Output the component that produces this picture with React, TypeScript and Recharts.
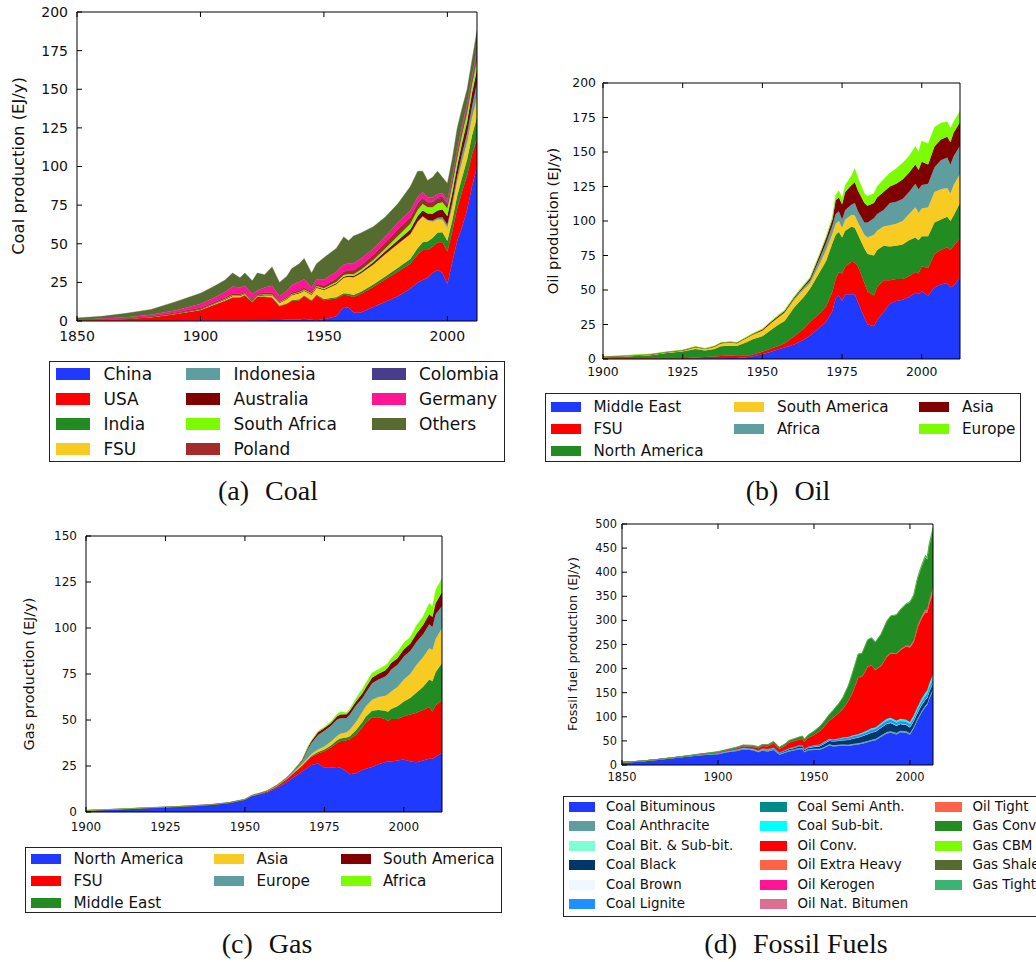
import React from "react";
import { AreaChart, Area, XAxis, YAxis, ReferenceLine } from "recharts";

// ---------- (a) Coal, EJ/y ----------
const coalYears = [1850, 1860, 1870, 1880, 1890, 1900, 1905, 1910, 1913, 1916, 1918, 1921, 1923, 1926, 1929, 1932, 1935, 1937, 1940, 1942, 1945, 1947, 1950, 1955, 1958, 1960, 1962, 1965, 1970, 1975, 1980, 1985, 1988, 1990, 1992, 1994, 1996, 1998, 2000, 2002, 2004, 2006, 2008, 2010, 2012];
const coalChina = [0.1, 0.1, 0.1, 0.2, 0.2, 0.3, 0.3, 0.4, 0.4, 0.4, 0.4, 0.5, 0.5, 0.5, 0.6, 0.6, 0.8, 0.8, 1, 1.5, 0.8, 0.5, 1.2, 3, 9, 8.5, 5.5, 5.5, 9, 12.5, 16, 21, 25, 26.5, 28, 31, 33, 31, 24, 38, 52, 61, 72, 87, 100];
const coalUSA = [0.4, 0.9, 1.4, 2.3, 4.3, 6.7, 9.7, 12.6, 14.6, 14.6, 16.1, 11.5, 15, 15, 14.4, 8.9, 10.2, 12.2, 12.5, 14.5, 12.2, 16, 12.3, 11.5, 8, 8, 10, 12, 13, 14.5, 16, 16, 18, 19.5, 18, 17, 18, 20, 21, 20, 21, 23, 22, 21, 18];
const coalIndia = [0, 0, 0, 0, 0.05, 0.1, 0.15, 0.2, 0.3, 0.3, 0.4, 0.4, 0.4, 0.4, 0.4, 0.35, 0.4, 0.45, 0.5, 0.5, 0.5, 0.6, 0.7, 0.8, 1, 1.1, 1.3, 1.4, 1.6, 2, 2.4, 3.2, 4.3, 5, 5.5, 5.8, 6.2, 6.5, 6.8, 7.2, 8, 9, 10.5, 12, 14];
const coalFSU = [0, 0, 0, 0.05, 0.2, 0.4, 0.5, 0.7, 0.9, 1, 0.5, 0.3, 0.4, 0.8, 1.2, 1.8, 2.8, 3.3, 4, 3, 3.5, 4.5, 5.8, 8.5, 10, 11, 11.5, 12, 13, 14.5, 15.5, 16, 17, 16.5, 13.5, 10.5, 8.5, 8, 8.5, 9, 9.5, 10.5, 11, 11.5, 12.5];
const coalIndonesia = [0, 0, 0, 0, 0, 0, 0, 0, 0, 0, 0, 0, 0, 0, 0, 0, 0, 0, 0, 0, 0, 0, 0, 0, 0, 0, 0, 0, 0.05, 0.05, 0.05, 0.1, 0.2, 0.3, 0.5, 0.8, 1.2, 1.6, 2, 2.8, 3.5, 5, 6, 7.5, 9.5];
const coalAustralia = [0.05, 0.05, 0.1, 0.15, 0.2, 0.25, 0.25, 0.3, 0.35, 0.3, 0.3, 0.35, 0.35, 0.35, 0.3, 0.3, 0.3, 0.35, 0.4, 0.4, 0.4, 0.4, 0.5, 0.6, 0.7, 0.75, 0.8, 0.9, 1.3, 1.8, 2.3, 3, 3.5, 3.8, 4, 4.3, 4.7, 5, 5.5, 6, 6.5, 7, 7.5, 8.5, 9];
const coalSouthAfrica = [0, 0, 0, 0, 0, 0.05, 0.1, 0.15, 0.2, 0.2, 0.25, 0.25, 0.25, 0.3, 0.3, 0.3, 0.35, 0.4, 0.45, 0.5, 0.55, 0.6, 0.7, 0.9, 1, 1.1, 1.1, 1.3, 1.5, 1.8, 2.8, 3.6, 4, 4.1, 4.1, 4.3, 4.5, 4.8, 5, 5, 5.3, 5.5, 5.6, 5.8, 6];
const coalPoland = [0.05, 0.1, 0.2, 0.3, 0.5, 0.7, 0.8, 0.9, 1, 0.9, 0.8, 0.7, 0.9, 0.9, 1.1, 0.7, 0.8, 1, 1, 1.1, 0.8, 1.3, 1.6, 2, 2.2, 2.4, 2.6, 2.8, 3.2, 3.8, 4.3, 4.1, 4.1, 3.6, 3.2, 3.1, 3, 2.8, 2.6, 2.5, 2.4, 2.3, 2.2, 2.1, 2];
const coalColombia = [0, 0, 0, 0, 0, 0, 0, 0, 0, 0, 0, 0, 0, 0, 0, 0, 0, 0, 0, 0, 0, 0, 0.05, 0.05, 0.05, 0.05, 0.05, 0.05, 0.07, 0.08, 0.1, 0.2, 0.4, 0.5, 0.5, 0.6, 0.8, 0.9, 0.9, 1, 1.3, 1.5, 1.8, 1.9, 2.2];
const coalGermany = [0.2, 0.4, 0.6, 1, 1.5, 2.5, 3, 3.5, 4.5, 4, 4, 3.5, 2, 3.5, 4.5, 3, 4, 5, 5.5, 5.5, 3, 3, 4, 4.5, 4.5, 4.5, 4.5, 4.5, 4, 4, 4.3, 4.3, 4, 3.5, 2.8, 2.5, 2.3, 2.1, 2, 2, 2, 2, 2, 1.9, 2];
const coalOthers = [1.2, 1.45, 2.6, 3.5, 5.5, 7, 7.2, 7.75, 8.75, 6.3, 8.25, 8.5, 11.2, 8.25, 12.2, 9.05, 9.35, 10.5, 11.65, 13.5, 9.25, 10.1, 14.15, 15.15, 18, 14.6, 17.65, 16.55, 14.3, 12.5, 12.25, 15.5, 16.5, 13.7, 10.9, 13.1, 14.8, 10.3, 10.7, 11.5, 13.5, 11.2, 9.4, 9.8, 12.8];

// ---------- (b) Oil, EJ/y ----------
const oilYears = [1900, 1905, 1910, 1915, 1920, 1925, 1929, 1932, 1935, 1937, 1940, 1942, 1945, 1947, 1950, 1953, 1955, 1957, 1960, 1963, 1965, 1968, 1970, 1972, 1973, 1974, 1975, 1976, 1978, 1979, 1980, 1982, 1983, 1985, 1986, 1988, 1990, 1992, 1994, 1996, 1998, 1999, 2000, 2002, 2004, 2006, 2008, 2009, 2010, 2012];
const oilMiddleEast = [0, 0, 0, 0, 0.1, 0.1, 0.3, 0.3, 0.5, 0.6, 0.8, 0.7, 1.3, 2, 3.5, 5.5, 7, 8.3, 10.5, 14, 17, 23, 27, 35, 44, 46, 42, 47, 47, 47, 41, 30, 25, 24, 28, 34, 40, 42, 43, 45, 48, 47, 49, 46, 52, 54, 55, 52, 53, 59];
const oilFSU = [0.6, 0.5, 0.6, 0.6, 0.3, 0.5, 0.8, 1.1, 1.4, 1.6, 1.8, 1.5, 1.1, 1.2, 1.8, 2.3, 2.5, 3.2, 6, 8, 10, 10, 11, 14, 14, 17, 20, 20, 23.5, 23, 26, 25, 24, 22, 24, 23, 17, 16, 15, 15, 15, 15, 18, 20, 24, 25, 26, 27, 29, 28.5];
const oilNorthAmerica = [0.6, 1.1, 1.6, 2.2, 3.9, 4.8, 6.2, 4.8, 5.3, 7, 7, 7.2, 9.8, 11.2, 11.2, 13.7, 15.3, 16, 21, 23, 24, 30, 33, 35, 32, 29, 26, 26, 25.5, 25, 23, 25, 27, 29, 27, 25, 24.5, 24, 25, 26, 25, 24, 22, 23, 23, 22, 22, 21, 22, 25.5];
const oilSouthAmerica = [0.2, 0.3, 0.3, 0.3, 0.5, 0.6, 1.2, 1, 1.6, 2.1, 2.4, 2, 3, 3.2, 4, 5, 5.2, 6, 5.5, 5.5, 4, 6, 8, 7, 8, 8, 7, 8, 8.5, 9, 9, 10, 12, 15, 14, 14, 15.5, 16, 17, 19, 22, 20, 20, 21, 22, 22, 21, 20, 22, 21];
const oilAfrica = [0.05, 0.05, 0.05, 0.05, 0.05, 0.05, 0.05, 0.05, 0.05, 0.05, 0.05, 0.05, 0.05, 0.1, 0.1, 0.2, 0.3, 0.3, 1, 1.5, 2, 4, 5, 6, 7, 7, 6, 7, 7.5, 9, 8, 9, 11, 12, 12, 12, 16, 16, 16, 16, 17, 17, 17, 17, 18, 21, 22, 21, 21, 20.5];
const oilAsia = [0.15, 0.15, 0.25, 0.25, 0.25, 0.25, 0.25, 0.25, 0.35, 0.35, 0.25, 0.25, 0.35, 0.5, 0.8, 0.8, 0.9, 1, 0.8, 1, 1.5, 2.5, 3.5, 4, 10, 10, 11, 13, 14, 15, 15, 14, 12, 11, 12, 13, 12, 13, 14, 14, 14, 14, 17, 14, 15, 15, 15, 16, 17, 17];
const oilEurope = [0.1, 0.1, 0.2, 0.2, 0.2, 0.2, 0.2, 0.2, 0.2, 0.3, 0.3, 0.3, 0.4, 0.4, 0.6, 0.5, 0.8, 0.7, 0.7, 1, 1, 1, 1.5, 2, 4, 5, 4.5, 5, 7, 10, 9, 7, 7, 7, 8, 9, 9.7, 11, 12, 12, 13, 13, 15, 15, 14, 12, 11, 10, 8, 8];

// ---------- (c) Gas, EJ/y ----------
const gasYears = [1900, 1910, 1920, 1925, 1930, 1935, 1940, 1945, 1950, 1952, 1955, 1957, 1960, 1963, 1965, 1968, 1970, 1971, 1973, 1975, 1977, 1979, 1980, 1982, 1983, 1985, 1987, 1988, 1990, 1992, 1994, 1995, 1996, 1998, 2000, 2002, 2004, 2006, 2008, 2009, 2010, 2012];
const gasNorthAmerica = [0.8, 1.5, 2.3, 2.6, 3, 3.45, 4, 4.9, 6.6, 8.5, 9.8, 10.6, 13, 16, 18.5, 22, 24.5, 25.5, 26.3, 24, 24, 24.5, 24, 22, 20.5, 21, 23, 23.5, 24.5, 26, 27, 27.5, 27.5, 28, 28.5, 27.5, 27, 28, 29, 29, 30, 32];
const gasFSU = [0, 0, 0, 0, 0.02, 0.05, 0.1, 0.1, 0.15, 0.2, 0.3, 0.5, 0.9, 1.5, 2, 3, 4, 4.5, 5.5, 9, 11, 13, 14.5, 17, 19, 21, 23, 25, 27, 25.5, 23.5, 22, 23, 22.5, 23.5, 25.5, 27, 27.5, 28, 25.5, 28, 28.5];
const gasMiddleEast = [0, 0, 0, 0, 0, 0, 0, 0, 0.05, 0.05, 0.05, 0.05, 0.1, 0.15, 0.2, 0.3, 0.5, 0.6, 0.8, 1, 1.2, 1.5, 1.5, 1.5, 1.7, 2.5, 3, 3.3, 3.5, 4, 4.5, 5, 5.5, 7, 8, 9, 11, 12.5, 15, 16.5, 18, 20.5];
const gasAsia = [0, 0, 0, 0, 0, 0, 0, 0, 0.02, 0.05, 0.05, 0.1, 0.1, 0.15, 0.25, 0.6, 0.8, 1, 1.3, 1.6, 2, 2.3, 2.5, 2.8, 3.5, 4.5, 5.5, 5.5, 6, 7, 8, 9.5, 9.5, 10.5, 12, 13, 15, 16, 17, 17, 18, 19];
const gasEurope = [0.05, 0.05, 0.05, 0.05, 0.05, 0.05, 0.05, 0.05, 0.05, 0.1, 0.15, 0.2, 0.3, 0.45, 0.8, 1.6, 5, 6, 8, 8.5, 8.5, 9, 8.5, 7.8, 8.3, 9, 7.5, 7.5, 9, 9.5, 10.5, 11, 12, 12, 12.5, 12.5, 12.5, 12.5, 13, 12.5, 13.5, 12];
const gasSouthAmerica = [0, 0, 0.02, 0.03, 0.03, 0.05, 0.05, 0.05, 0.1, 0.1, 0.1, 0.15, 0.15, 0.25, 0.3, 0.6, 1, 1.1, 1.5, 1.6, 1.6, 1.8, 2, 2, 2, 2.2, 2.5, 2.7, 3, 3.2, 3.3, 3.5, 3.5, 3.5, 4, 4, 4.5, 5, 5.5, 5.5, 6, 7.5];
const gasAfrica = [0.05, 0.05, 0.03, 0.02, 0, 0, 0, 0, 0, 0, 0, 0, 0.02, 0.05, 0.05, 0.1, 0.2, 0.3, 0.5, 0.6, 0.7, 1.2, 1.5, 1, 1, 1.8, 2.5, 2.5, 2.5, 2.3, 2.7, 2.5, 2.5, 3.5, 3.5, 3.5, 4.5, 4.5, 6, 5.5, 7, 7.5];

// ---------- (d) Fossil fuels by type, EJ/y ----------
const fossilYears = [1850, 1860, 1870, 1880, 1890, 1900, 1905, 1910, 1913, 1918, 1921, 1923, 1926, 1929, 1932, 1935, 1937, 1940, 1942, 1944, 1945, 1947, 1950, 1953, 1955, 1958, 1960, 1963, 1965, 1968, 1970, 1973, 1975, 1978, 1980, 1982, 1985, 1988, 1990, 1993, 1995, 1998, 2000, 2002, 2004, 2006, 2008, 2009, 2010, 2012];
const coalBituminous = [5.2, 7.5, 11.2, 15.5, 19.5, 22.2, 26.2, 29, 32.4, 30.4, 26.2, 29.7, 28.2, 31, 21.2, 25.5, 28.2, 30.4, 32.7, 32.7, 26.7, 30.4, 31, 31.4, 34.5, 40.6, 38.5, 39.6, 40.1, 39.5, 41, 42.5, 44, 47.4, 50, 51.5, 58.4, 65.5, 67, 63.3, 68, 67, 63, 76.3, 93.5, 108.5, 120.5, 124.7, 136.5, 154];
const coalAnthracite = [0.3, 0.5, 0.8, 1, 1.5, 2, 2, 2.5, 2.5, 2.5, 2.5, 2.5, 2.5, 2.5, 2, 2, 2.5, 2.5, 2.5, 2.5, 2, 2.5, 2.5, 2.5, 2.5, 2.5, 2.5, 2.5, 2.5, 2.5, 2.5, 2.5, 2.5, 2.5, 2.5, 2.5, 3, 3, 3, 3, 3, 3, 3, 3, 3, 3, 3, 3, 3, 3];
const coalBitSub = [0, 0, 0, 0, 0, 0, 0, 0, 0, 0, 0, 0, 0, 0, 0, 0, 0, 0, 0, 0, 0, 0, 0, 0, 0, 0, 0, 0, 0, 0, 0, 0, 0, 0, 0, 0, 0, 0, 0, 0, 0, 0, 0, 0, 0, 0, 0, 0, 0, 0];
const coalBlack = [0, 0, 0, 0, 0, 0, 0, 0, 0, 0, 0, 0.5, 1, 1.5, 1.5, 2, 2.5, 3, 3.5, 3.5, 2.5, 3, 4, 5, 6, 7, 7.5, 8, 9, 10, 11, 12, 13, 14, 15, 15, 16, 17, 17, 15, 14, 13, 12, 12, 12, 12, 12, 12, 12, 12];
const coalBrown = [0, 0, 0, 0, 0, 0.3, 0.3, 0.3, 0.3, 0.3, 0.3, 0.3, 0.3, 0.3, 0.3, 0.3, 0.3, 0.3, 0.3, 0.3, 0.3, 0.3, 0.5, 0.5, 0.5, 0.5, 0.5, 0.5, 0.5, 0.5, 0.5, 0.5, 0.5, 0.5, 0.5, 0.5, 0.5, 0.5, 1, 1, 1, 1, 1, 1, 1, 1, 1, 1, 1, 1];
const coalLignite = [0, 0, 0, 0, 0, 0.5, 0.5, 0.7, 0.8, 0.8, 1, 1, 1, 1.2, 1, 1.2, 1.5, 1.8, 2, 2, 1.5, 1.8, 2.5, 2.5, 2.8, 3, 3, 3.2, 3.5, 3.8, 4, 4.2, 4.5, 4.8, 5, 5.2, 5.5, 6, 6, 5.5, 5.5, 5.2, 5, 5.2, 5.5, 6, 6.5, 6.8, 7, 8];
const coalSemiAnth = [0, 0, 0, 0, 0, 0, 0, 0, 0, 0, 0, 0, 0, 0, 0, 0, 0, 0, 0, 0, 0, 0, 0, 0, 0, 0, 0, 0, 0, 0, 0, 0, 0, 0, 0, 0, 0, 0, 0, 0, 0, 0, 0, 0, 0, 0, 0, 0, 0, 0];
const coalSubBit = [0, 0, 0, 0, 0, 0, 0, 0, 0, 0, 0, 0, 0, 0, 0, 0, 0, 0, 0, 0, 0, 0, 0.5, 0.6, 0.7, 0.9, 1, 1.2, 1.4, 1.7, 2, 2.3, 2.5, 2.8, 3, 3.3, 3.6, 4, 4, 4.2, 4.5, 4.8, 5, 5.5, 6, 6.5, 7, 7.5, 8.5, 10];
const oilConv = [0, 0.01, 0.05, 0.3, 0.9, 1.7, 2.2, 3, 3.4, 4.5, 5.5, 6, 6.5, 9, 7.7, 9.4, 12, 12.6, 12, 14, 15.5, 18.6, 21.9, 27.9, 31.9, 37.9, 45.4, 53.9, 59.4, 76.3, 88.7, 118.6, 116.1, 132.5, 130.2, 119.2, 119, 128.8, 133.3, 138.4, 142.1, 151.7, 154.9, 152.3, 163.7, 166.2, 166.5, 161, 165.1, 169.4];
const oilExtraHeavy = [0, 0, 0, 0, 0, 0, 0, 0, 0, 0, 0, 0, 0, 0, 0, 0, 0, 0, 0, 0, 0, 0, 0, 0, 0, 0, 0, 0, 0, 0, 0, 0, 0, 0, 0.2, 0.2, 0.3, 0.4, 0.5, 0.6, 0.8, 1, 1.5, 1.8, 2, 2.2, 2.4, 2.4, 2.5, 2.5];
const oilKerogen = [0, 0, 0, 0, 0, 0, 0, 0, 0, 0, 0, 0, 0, 0, 0, 0, 0, 0, 0, 0, 0, 0, 0.1, 0.1, 0.1, 0.1, 0.1, 0.1, 0.1, 0.1, 0.1, 0.1, 0.1, 0.1, 0.1, 0.1, 0.1, 0.1, 0.1, 0.1, 0.1, 0.1, 0.1, 0.1, 0.1, 0.1, 0.1, 0.1, 0.1, 0.1];
const oilNatBitumen = [0, 0, 0, 0, 0, 0, 0, 0, 0, 0, 0, 0, 0, 0, 0, 0, 0, 0, 0, 0, 0, 0, 0, 0, 0, 0, 0, 0, 0, 0.1, 0.2, 0.3, 0.3, 0.4, 0.5, 0.5, 0.6, 0.7, 0.8, 0.9, 1, 1.2, 1.5, 1.8, 2.2, 2.5, 2.7, 3, 3.3, 4];
const oilTight = [0, 0, 0, 0, 0, 0, 0, 0, 0, 0, 0, 0, 0, 0, 0, 0, 0, 0, 0, 0, 0, 0, 0, 0, 0, 0, 0, 0, 0, 0, 0, 0, 0, 0, 0, 0, 0, 0, 0, 0, 0, 0, 0, 0, 0, 0, 0.3, 0.5, 1, 3.5];
const gasConv = [0, 0, 0.1, 0.2, 0.5, 0.9, 1.2, 1.6, 1.9, 2.2, 2.4, 2.6, 2.8, 3.1, 3.2, 3.6, 3.9, 4.2, 4.6, 5, 5.1, 5.8, 7, 9.5, 10, 12.5, 15, 19, 23, 31, 40, 47, 48, 55, 56.7, 56.7, 64.7, 72.6, 76.5, 79.1, 81.8, 85.4, 90, 92.7, 98, 102.4, 108.7, 105.1, 113.3, 119.2];
const gasCBM = [0, 0, 0, 0, 0, 0, 0, 0, 0, 0, 0, 0, 0, 0, 0, 0, 0, 0, 0, 0, 0, 0, 0, 0, 0, 0, 0, 0, 0, 0, 0, 0, 0, 0, 0, 0, 0, 0.1, 0.2, 0.5, 0.7, 1, 1.3, 1.5, 1.8, 2, 2.2, 2.3, 2.5, 2.5];
const gasShale = [0, 0, 0, 0, 0, 0, 0, 0, 0, 0, 0, 0, 0, 0, 0, 0, 0, 0, 0, 0, 0, 0, 0, 0, 0, 0, 0, 0, 0, 0, 0, 0, 0, 0, 0, 0, 0, 0, 0, 0, 0, 0, 0, 0, 0.3, 0.6, 1, 1.5, 2, 3];
const gasTight = [0, 0, 0, 0, 0, 0, 0, 0, 0, 0, 0, 0, 0, 0, 0, 0, 0, 0, 0, 0, 0, 0, 0, 0, 0, 0, 0, 0, 0, 0, 0, 0, 0, 0, 0.3, 0.3, 0.3, 0.3, 0.3, 0.4, 0.5, 0.6, 0.7, 0.8, 0.9, 1, 1.1, 1.1, 1.2, 1.3];

const BLUE = "#2039ff";
const RED = "#ff0000";
const GREEN = "#228b22";
const GOLD = "#f8cb22";
const TEAL = "#5f9ea0";
const MAROON = "#800000";
const LIME = "#7cfc00";
const BROWN = "#a52a2a";
const SLATE = "#483d8b";
const PINK = "#ff1493";
const OLIVE = "#556b2f";

type Series = { key: string; name: string; color: string; values: number[] };

const coalSeries: Series[] = [
  { key: "china", name: "China", color: BLUE, values: coalChina },
  { key: "usa", name: "USA", color: RED, values: coalUSA },
  { key: "india", name: "India", color: GREEN, values: coalIndia },
  { key: "fsu", name: "FSU", color: GOLD, values: coalFSU },
  { key: "indonesia", name: "Indonesia", color: TEAL, values: coalIndonesia },
  { key: "australia", name: "Australia", color: MAROON, values: coalAustralia },
  { key: "safrica", name: "South Africa", color: LIME, values: coalSouthAfrica },
  { key: "poland", name: "Poland", color: BROWN, values: coalPoland },
  { key: "colombia", name: "Colombia", color: SLATE, values: coalColombia },
  { key: "germany", name: "Germany", color: PINK, values: coalGermany },
  { key: "others", name: "Others", color: OLIVE, values: coalOthers },
];

const oilSeries: Series[] = [
  { key: "me", name: "Middle East", color: BLUE, values: oilMiddleEast },
  { key: "fsu", name: "FSU", color: RED, values: oilFSU },
  { key: "na", name: "North America", color: GREEN, values: oilNorthAmerica },
  { key: "sa", name: "South America", color: GOLD, values: oilSouthAmerica },
  { key: "af", name: "Africa", color: TEAL, values: oilAfrica },
  { key: "as", name: "Asia", color: MAROON, values: oilAsia },
  { key: "eu", name: "Europe", color: LIME, values: oilEurope },
];

const gasSeries: Series[] = [
  { key: "na", name: "North America", color: BLUE, values: gasNorthAmerica },
  { key: "fsu", name: "FSU", color: RED, values: gasFSU },
  { key: "me", name: "Middle East", color: GREEN, values: gasMiddleEast },
  { key: "as", name: "Asia", color: GOLD, values: gasAsia },
  { key: "eu", name: "Europe", color: TEAL, values: gasEurope },
  { key: "sa", name: "South America", color: MAROON, values: gasSouthAmerica },
  { key: "af", name: "Africa", color: LIME, values: gasAfrica },
];

const fossilSeries: Series[] = [
  { key: "cbit", name: "Coal Bituminous", color: BLUE, values: coalBituminous },
  { key: "canth", name: "Coal Anthracite", color: "#5f9ea0", values: coalAnthracite },
  { key: "cbitsub", name: "Coal Bit. & Sub-bit.", color: "#7fffd4", values: coalBitSub },
  { key: "cblack", name: "Coal Black", color: "#03366b", values: coalBlack },
  { key: "cbrown", name: "Coal Brown", color: "#f0f8ff", values: coalBrown },
  { key: "clig", name: "Coal Lignite", color: "#1e90ff", values: coalLignite },
  { key: "csemi", name: "Coal Semi Anth.", color: "#008b8b", values: coalSemiAnth },
  { key: "csub", name: "Coal Sub-bit.", color: "#00ffff", values: coalSubBit },
  { key: "oconv", name: "Oil Conv.", color: "#ff0000", values: oilConv },
  { key: "oxh", name: "Oil Extra Heavy", color: "#ff6347", values: oilExtraHeavy },
  { key: "oker", name: "Oil Kerogen", color: "#ff1493", values: oilKerogen },
  { key: "obit", name: "Oil Nat. Bitumen", color: "#db7093", values: oilNatBitumen },
  { key: "otight", name: "Oil Tight", color: "#ff6347", values: oilTight },
  { key: "gconv", name: "Gas Conv.", color: "#228b22", values: gasConv },
  { key: "gcbm", name: "Gas CBM", color: "#7cfc00", values: gasCBM },
  { key: "gshale", name: "Gas Shale", color: "#556b2f", values: gasShale },
  { key: "gtight", name: "Gas Tight", color: "#3cb371", values: gasTight },
];

function toRows(years: number[], series: Series[]) {
  return years.map((year, i) => {
    const row: Record<string, number> = { year };
    series.forEach((s) => {
      row[s.key] = s.values[i];
    });
    return row;
  });
}

const FONT = "'DejaVu Sans', sans-serif";
const PAD_L = 70;
const PAD_R = 12;
const PAD_T = 12;
const PAD_B = 34;
const TICK = 5;

type PanelProps = {
  x: number;
  y: number;
  w: number;
  h: number;
  years: number[];
  series: Series[];
  xDomain: [number, number];
  xTicks: number[];
  yMax: number;
  yTicks: number[];
  fontSize: number;
  xGap: number;
  yGap: number;
};

function Panel(p: PanelProps) {
  const data = toRows(p.years, p.series);
  const tick = { fill: "#111", fontSize: p.fontSize, fontFamily: FONT };
  // length of the inward top ticks, in data units
  const topTick = (p.yMax * TICK) / p.h;
  return (
    <div style={{ position: "absolute", left: p.x - PAD_L, top: p.y - PAD_T }}>
      <AreaChart
        width={p.w + PAD_L + PAD_R}
        height={p.h + PAD_T + PAD_B}
        data={data}
        margin={{ top: PAD_T, right: 0, bottom: 0, left: 0 }}
      >
        {p.series.map((s) => (
          <Area
            key={s.key}
            xAxisId="b"
            yAxisId="l"
            type="linear"
            dataKey={s.key}
            name={s.name}
            stackId="s"
            fill={s.color}
            fillOpacity={1}
            stroke={s.color}
            strokeWidth={0.4}
            dot={false}
            activeDot={false}
            isAnimationActive={false}
          />
        ))}
        <XAxis
          xAxisId="b"
          dataKey="year"
          type="number"
          domain={p.xDomain}
          ticks={p.xTicks}
          interval={0}
          height={PAD_B}
          stroke="#000"
          tickSize={-TICK}
          tickMargin={TICK + p.xGap}
          tick={tick}
          allowDataOverflow
        />
        <YAxis
          yAxisId="l"
          type="number"
          domain={[0, p.yMax]}
          ticks={p.yTicks}
          interval={0}
          width={PAD_L}
          stroke="#000"
          tickSize={-TICK}
          tickMargin={TICK + p.yGap}
          tick={tick}
          allowDataOverflow
        />
        <YAxis
          yAxisId="r"
          orientation="right"
          type="number"
          domain={[0, p.yMax]}
          ticks={p.yTicks}
          interval={0}
          width={PAD_R}
          stroke="#000"
          tickSize={-TICK}
          tick={false}
          allowDataOverflow
        />
        <ReferenceLine xAxisId="b" yAxisId="l" y={p.yMax} stroke="#000" ifOverflow="visible" />
        {p.xTicks.map((t) => (
          <ReferenceLine
            key={t}
            xAxisId="b"
            yAxisId="l"
            stroke="#000"
            ifOverflow="visible"
            segment={[
              { x: t, y: p.yMax },
              { x: t, y: p.yMax - topTick },
            ]}
          />
        ))}
      </AreaChart>
    </div>
  );
}

type LegendSpec = {
  x: number;
  y: number;
  w: number;
  h: number;
  colX: number[];
  textX: number[];
  rowY: number[];
  sw: number;
  sh: number;
  fontSize: number;
};

function LegendBox({ spec, series }: { spec: LegendSpec; series: Series[] }) {
  // matplotlib fills columns first, the first columns taking the extra items
  const ncol = spec.colX.length;
  const base = Math.floor(series.length / ncol);
  const extra = series.length % ncol;
  const items: { s: Series; c: number; r: number }[] = [];
  let idx = 0;
  for (let c = 0; c < ncol; c++) {
    const n = base + (c < extra ? 1 : 0);
    for (let r = 0; r < n; r++) items.push({ s: series[idx++], c, r });
  }
  return (
    <>
      <div
        style={{
          position: "absolute",
          left: spec.x,
          top: spec.y,
          width: spec.w,
          height: spec.h,
          border: "1px solid #222",
          boxSizing: "border-box",
        }}
      />
      {items.map(({ s, c, r }) => (
        <React.Fragment key={s.key}>
          <div
            style={{
              position: "absolute",
              left: spec.colX[c],
              top: spec.rowY[r] - spec.sh / 2,
              width: spec.sw,
              height: spec.sh,
              background: s.color,
            }}
          />
          <div
            style={{
              position: "absolute",
              left: spec.textX[c],
              top: spec.rowY[r] - spec.fontSize * 0.6,
              fontSize: spec.fontSize,
              lineHeight: `${spec.fontSize * 1.2}px`,
              whiteSpace: "nowrap",
              color: "#111",
            }}
          >
            {s.name}
          </div>
        </React.Fragment>
      ))}
    </>
  );
}

function YLabel({ cx, cy, size, text }: { cx: number; cy: number; size: number; text: string }) {
  return (
    <div
      style={{
        position: "absolute",
        left: cx,
        top: cy,
        transform: "translate(-50%, -50%) rotate(-90deg)",
        fontSize: size,
        whiteSpace: "nowrap",
        color: "#111",
      }}
    >
      {text}
    </div>
  );
}

function Caption({ cx, cy, tag, text }: { cx: number; cy: number; tag: string; text: string }) {
  return (
    <div
      style={{
        position: "absolute",
        left: cx,
        top: cy,
        transform: "translate(-50%, -50%)",
        fontFamily: "'Liberation Serif', serif",
        fontSize: 28,
        whiteSpace: "nowrap",
        color: "#111",
      }}
    >
      {tag}
      <span style={{ marginLeft: 16 }}>{text}</span>
    </div>
  );
}

export default function App() {
  return (
    <div
      style={{
        position: "absolute",
        left: 0,
        top: 0,
        width: 1036,
        height: 962,
        overflow: "hidden",
        background: "#fff",
        fontFamily: FONT,
      }}
    >
      <Panel
        x={77} y={12} w={400} h={309}
        years={coalYears} series={coalSeries}
        xDomain={[1850, 2012]} xTicks={[1850, 1900, 1950, 2000]}
        yMax={200} yTicks={[0, 25, 50, 75, 100, 125, 150, 175, 200]}
        fontSize={14} xGap={10} yGap={9}
      />
      <YLabel cx={18} cy={166} size={16.4} text="Coal production (EJ/y)" />
      <LegendBox
        series={coalSeries}
        spec={{ x: 49, y: 361, w: 456, h: 101, colX: [56, 186, 371.5], textX: [103.5, 233.5, 419], rowY: [374, 399, 424, 449], sw: 34, sh: 12, fontSize: 17 }}
      />
      <Caption cx={268} cy={491} tag="(a)" text="Coal" />

      <Panel
        x={603} y={83} w={357} h={276}
        years={oilYears} series={oilSeries}
        xDomain={[1900, 2012]} xTicks={[1900, 1925, 1950, 1975, 2000]}
        yMax={200} yTicks={[0, 25, 50, 75, 100, 125, 150, 175, 200]}
        fontSize={12.4} xGap={8} yGap={7}
      />
      <YLabel cx={552} cy={221} size={14.7} text="Oil production (EJ/y)" />
      <LegendBox
        series={oilSeries}
        spec={{ x: 545, y: 393, w: 476, h: 69, colX: [551, 734, 919], textX: [593.5, 777, 962], rowY: [407, 429, 451], sw: 30.4, sh: 10.6, fontSize: 15.2 }}
      />
      <Caption cx={788} cy={491} tag="(b)" text="Oil" />

      <Panel
        x={86} y={536} w={356} h={276}
        years={gasYears} series={gasSeries}
        xDomain={[1900, 2012]} xTicks={[1900, 1925, 1950, 1975, 2000]}
        yMax={150} yTicks={[0, 25, 50, 75, 100, 125, 150]}
        fontSize={12} xGap={10} yGap={9}
      />
      <YLabel cx={29} cy={674} size={14.5} text="Gas production (EJ/y)" />
      <LegendBox
        series={gasSeries}
        spec={{ x: 25, y: 847, w: 477, h: 66, colX: [31, 214, 341], textX: [73.5, 256.5, 383], rowY: [859, 881, 903], sw: 30.4, sh: 10.6, fontSize: 15.2 }}
      />
      <Caption cx={267} cy={944} tag="(c)" text="Gas" />

      <Panel
        x={622} y={524} w={311} h={241}
        years={fossilYears} series={fossilSeries}
        xDomain={[1850, 2012]} xTicks={[1850, 1900, 1950, 2000]}
        yMax={500} yTicks={[0, 50, 100, 150, 200, 250, 300, 350, 400, 450, 500]}
        fontSize={11.4} xGap={8} yGap={5}
      />
      <YLabel cx={572} cy={644} size={12.8} text="Fossil fuel production (EJ/y)" />
      <LegendBox
        series={fossilSeries}
        spec={{ x: 563, y: 796, w: 520, h: 121, colX: [568.5, 760, 935], textX: [606, 797.5, 972.5], rowY: [807, 826, 846, 865, 885, 904], sw: 26.8, sh: 9.4, fontSize: 13.4 }}
      />
      <Caption cx={796} cy={944} tag="(d)" text="Fossil Fuels" />
    </div>
  );
}
